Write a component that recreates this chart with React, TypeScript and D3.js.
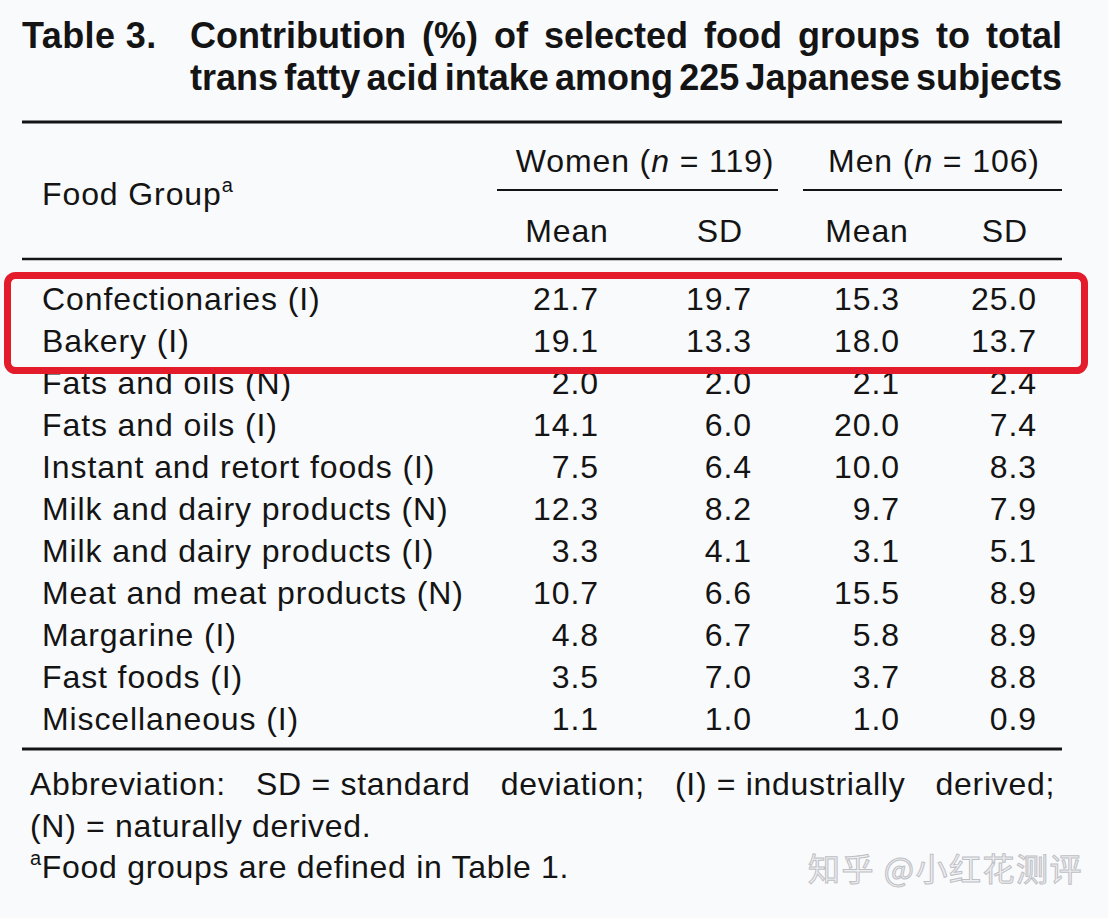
import React, { useMemo } from "react";
import * as d3 from "d3";

const foodGroups = [
  "Confectionaries (I)",
  "Bakery (I)",
  "Fats and oils (N)",
  "Fats and oils (I)",
  "Instant and retort foods (I)",
  "Milk and dairy products (N)",
  "Milk and dairy products (I)",
  "Meat and meat products (N)",
  "Margarine (I)",
  "Fast foods (I)",
  "Miscellaneous (I)",
];
const womenMean = [21.7, 19.1, 2.0, 14.1, 7.5, 12.3, 3.3, 10.7, 4.8, 3.5, 1.1];
const womenSD = [19.7, 13.3, 2.0, 6.0, 6.4, 8.2, 4.1, 6.6, 6.7, 7.0, 1.0];
const menMean = [15.3, 18.0, 2.1, 20.0, 10.0, 9.7, 3.1, 15.5, 5.8, 3.7, 1.0];
const menSD = [25.0, 13.7, 2.4, 7.4, 8.3, 7.9, 5.1, 8.9, 8.9, 8.8, 0.9];
const columnHeaders = ["Mean", "SD", "Mean", "SD"];
const highlightedRows = [0, 1];

const titleLine1 = ["Contribution", "(%)", "of", "selected", "food", "groups", "to", "total"];
const titleLine2 = ["trans", "fatty", "acid", "intake", "among", "225", "Japanese", "subjects"];
const footLine1 = ["Abbreviation:", "SD = standard", "deviation;", "(I) = industrially", "derived;"];

const W = 1108;
const H = 918;
const FONT = '"Liberation Sans", Arial, Helvetica, sans-serif';
const INK = "#141414";

function useMeasure() {
  return useMemo(() => {
    const canvas = document.createElement("canvas");
    const ctx = canvas.getContext("2d")!;
    return (text: string, font: string, spacing = 0) => {
      ctx.font = font;
      return ctx.measureText(text).width + spacing * text.length;
    };
  }, []);
}

function justify(words: string[], x0: number, x1: number, widths: number[]) {
  const total = widths.reduce((a, b) => a + b, 0);
  const gap = words.length > 1 ? (x1 - x0 - total) / (words.length - 1) : 0;
  const xs: number[] = [];
  let x = x0;
  widths.forEach((w) => {
    xs.push(x);
    x += w + gap;
  });
  return xs;
}

export default function App() {
  const measure = useMeasure();
  const fmt = d3.format(".1f");

  const y = d3.scaleLinear().domain([0, foodGroups.length - 1]).range([310, 730]);
  const colRight = d3.scaleOrdinal<number, number>().domain([0, 1, 2, 3]).range([599, 752, 900, 1037]);
  const colCenter = d3.scaleOrdinal<number, number>().domain([0, 1, 2, 3]).range([567, 720, 867, 1005]);
  const series = [womenMean, womenSD, menMean, menSD];

  const titleFont = `bold 36px ${FONT}`;
  const t1w = titleLine1.map((w) => measure(w, titleFont));
  const t2w = titleLine2.map((w) => measure(w, titleFont));
  const t1x = justify(titleLine1, 190, 1062, t1w);
  const t2x = justify(titleLine2, 190, 1062, t2w);

  const ls = 0.9;
  const fls = 0.7;
  const footFont = `32px ${FONT}`;
  const f1w = footLine1.map((w) => measure(w, footFont, fls));
  const f1x = justify(footLine1, 30, 1055, f1w);

  const yTop = y(highlightedRows[0]);
  const yBot = y(highlightedRows[highlightedRows.length - 1]);

  return (
    <div style={{ position: "absolute", left: 0, top: 0, width: W, height: H }}>
      <svg width={W} height={H} style={{ display: "block" }} fontFamily={FONT}>
        <rect x={0} y={0} width={W} height={H} fill="#f9fafc" />

        {/* Title */}
        <g fill={INK} fontWeight="bold" fontSize={36}>
          <text x={22} y={48} letterSpacing={0.4}>Table 3.</text>
          {titleLine1.map((w, i) => (
            <text key={"t1" + i} x={t1x[i]} y={48}>{w}</text>
          ))}
          {titleLine2.map((w, i) => (
            <text key={"t2" + i} x={t2x[i]} y={90}>{w}</text>
          ))}
        </g>

        {/* Rules */}
        <line x1={22} x2={1062} y1={122} y2={122} stroke={INK} strokeWidth={3} />
        <line x1={497} x2={778} y1={190} y2={190} stroke={INK} strokeWidth={2.2} />
        <line x1={803} x2={1062} y1={190} y2={190} stroke={INK} strokeWidth={2.2} />
        <line x1={22} x2={1062} y1={259} y2={259} stroke={INK} strokeWidth={2.6} />
        <line x1={22} x2={1062} y1={749} y2={749} stroke={INK} strokeWidth={3} />

        {/* Header */}
        <g fill={INK} fontSize={32} letterSpacing={ls}>
          <text x={42} y={205}>
            Food Group
            <tspan fontSize={20} dy={-13}>a</tspan>
          </text>
          <text x={645} y={172} textAnchor="middle">
            Women (<tspan fontStyle="italic">n</tspan> = 119)
          </text>
          <text x={934} y={172} textAnchor="middle">
            Men (<tspan fontStyle="italic">n</tspan> = 106)
          </text>
          {columnHeaders.map((h, i) => (
            <text key={"h" + i} x={colCenter(i)} y={242} textAnchor="middle">{h}</text>
          ))}
        </g>

        {/* Body */}
        <g fill={INK} fontSize={32} letterSpacing={ls}>
          {foodGroups.map((g, r) => (
            <g key={"r" + r}>
              <text x={42} y={y(r)}>{g}</text>
              {series.map((s, c) => (
                <text key={"c" + c} x={colRight(c)} y={y(r)} textAnchor="end">{fmt(s[r])}</text>
              ))}
            </g>
          ))}
        </g>

        {/* Highlight box */}
        <rect
          x={7.5}
          y={yTop - 34.5}
          width={1077}
          height={yBot - yTop + 53}
          rx={8}
          ry={8}
          fill="none"
          stroke="#e31b2a"
          strokeWidth={7}
        />

        {/* Footnotes */}
        <g fill={INK} fontSize={32} letterSpacing={fls}>
          {footLine1.map((w, i) => (
            <text key={"f1" + i} x={f1x[i]} y={795}>{w}</text>
          ))}
          <text x={30} y={837}>(N) = naturally derived.</text>
          <text x={30} y={878}>
            <tspan fontSize={20} dy={-13}>a</tspan>
            <tspan dy={13}>Food groups are defined in Table 1.</tspan>
          </text>
        </g>

        {/* Watermark */}
        <text
          x={808}
          y={881}
          fontFamily='"Noto Sans CJK SC", sans-serif'
          fontSize={32}
          letterSpacing={1.5}
          fill="#eeeff2"
          stroke="#bfc0c4"
          strokeWidth={1}
        >
          知乎 @小红花测评
        </text>
      </svg>
    </div>
  );
}
